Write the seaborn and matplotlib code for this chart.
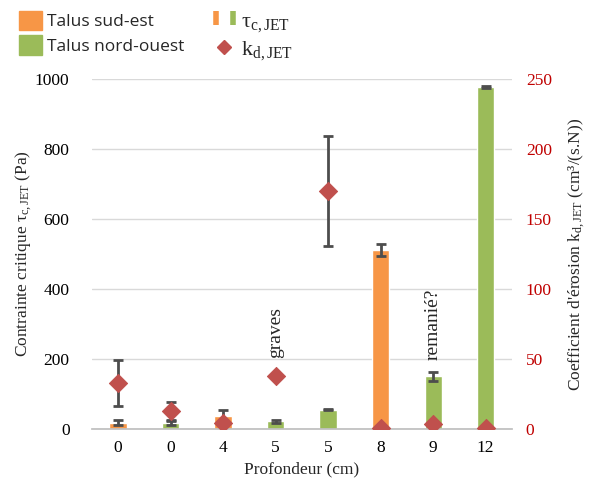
import matplotlib
matplotlib.use("Agg")
import matplotlib.pyplot as plt
import seaborn as sns
import numpy as np
import pandas as pd
from matplotlib.lines import Line2D
from matplotlib.patches import Patch
from matplotlib.legend_handler import HandlerTuple

# ---- data ----
depth_labels = ["0", "0", "4", "5", "5", "8", "9", "12"]
side = ["Talus sud-est", "Talus nord-ouest", "Talus sud-est", "Talus nord-ouest",
        "Talus nord-ouest", "Talus sud-est", "Talus nord-ouest", "Talus nord-ouest"]
tau_c = [18, 18, 37, 22, 55, 511, 151, 978]
tau_err = [8, 7, 16, 4, 2, 16, 13, 3]
k_d = [33, 12.5, 4.5, 37.5, 170, 0.5, 3.5, 0.5]
k_err = [16.5, 7, 0, 0, 39, 0, 0, 0]
notes = {3: "graves", 6: "remanié?"}

sns.set_theme(style="white")
plt.rcParams["font.family"] = ["Liberation Serif", "DejaVu Serif"]
plt.rcParams["mathtext.fontset"] = "custom"
plt.rcParams["mathtext.rm"] = "Liberation Serif"
plt.rcParams["mathtext.it"] = "Liberation Serif:italic"

orange = "#F79646"
green = "#9BBB59"
red = "#C0504D"
errc = "#4D4D4D"
tickred = "#C00000"

df = pd.DataFrame({"pos": range(len(depth_labels)), "side": side, "tau": tau_c})

fig = plt.figure(figsize=(5.96, 4.9), dpi=100)
ax = fig.add_axes([0.154, 0.1245, 0.705, 0.7145])

sns.barplot(data=df, x="pos", y="tau", hue="side", dodge=False, width=0.33,
            palette={"Talus sud-est": orange, "Talus nord-ouest": green},
            ax=ax, legend=False, saturation=1, errorbar=None)
ax.errorbar(df["pos"], tau_c, yerr=tau_err, fmt="none", ecolor=errc,
            elinewidth=2, capsize=3.5, capthick=2, zorder=5)

ax.set_ylim(0, 1000)
ax.set_yticks(range(0, 1001, 200))
ax.set_xlim(-0.5, len(depth_labels) - 0.5)
ax.set_xticks(range(len(depth_labels)))
ax.set_xticklabels(depth_labels)
ax.grid(axis="y", color="#D9D9D9", linewidth=1)
ax.set_axisbelow(True)
for s in ["top", "right", "left"]:
    ax.spines[s].set_visible(False)
ax.spines["bottom"].set_color("#BFBFBF")
ax.tick_params(axis="both", length=0, labelsize=12.5, colors="black")
ax.tick_params(axis="y", pad=16)
ax.tick_params(axis="x", pad=8)
ax.set_xlabel("Profondeur (cm)", fontsize=12.5, labelpad=4)
ax.set_ylabel("Contrainte critique τ$_{\\mathrm{c,JET}}$ (Pa)", fontsize=12.5, labelpad=1)

ax2 = ax.twinx()
sns.scatterplot(x=df["pos"], y=k_d, marker="D", color=red, s=85, ax=ax2,
                edgecolor=red, zorder=6)
ax2.errorbar(df["pos"], k_d, yerr=k_err, fmt="none", ecolor=errc,
             elinewidth=2, capsize=3.5, capthick=2, zorder=4)
ax2.set_ylim(0, 250)
ax2.set_yticks(range(0, 251, 50))
for s in ["top", "right", "left", "bottom"]:
    ax2.spines[s].set_visible(False)
ax2.tick_params(axis="y", length=0, labelsize=12.5, colors=tickred, pad=10)
ax2.set_ylabel("Coefficient d'érosion k$_{\\mathrm{d,JET}}$ (cm³/(s.N))",
               fontsize=12.5, labelpad=10)

for i, t in notes.items():
    ax2.text(i, 51 if i == 3 else 49, t, rotation=90, ha="center", va="bottom",
             fontsize=14, zorder=7)

handles = [Patch(color=orange), Patch(color=green),
           (Line2D([], [], marker="|", linestyle="none", color=orange, markersize=10, markeredgewidth=4),
            Line2D([], [], marker="|", linestyle="none", color=green, markersize=10, markeredgewidth=4)),
           Line2D([], [], marker="D", linestyle="none", color=red, markersize=7)]
labels = ["Talus sud-est", "Talus nord-ouest", "τ$_{\\mathrm{c,JET}}$", "k$_{\\mathrm{d,JET}}$"]
leg = fig.legend(handles, labels, loc="upper left", bbox_to_anchor=(0.005, 1.01), ncol=2,
                 frameon=False, handler_map={tuple: HandlerTuple(ndivide=None, pad=0.6)},
                 handlelength=1.35, handleheight=1.35, columnspacing=1.6, labelspacing=0.3,
                 handletextpad=0.3, fontsize=12.5)
for txt in leg.get_texts()[:2]:
    txt.set_fontfamily("Open Sans")
for txt in leg.get_texts()[2:]:
    txt.set_fontsize(16)

fig.savefig("out.png", dpi=100)
